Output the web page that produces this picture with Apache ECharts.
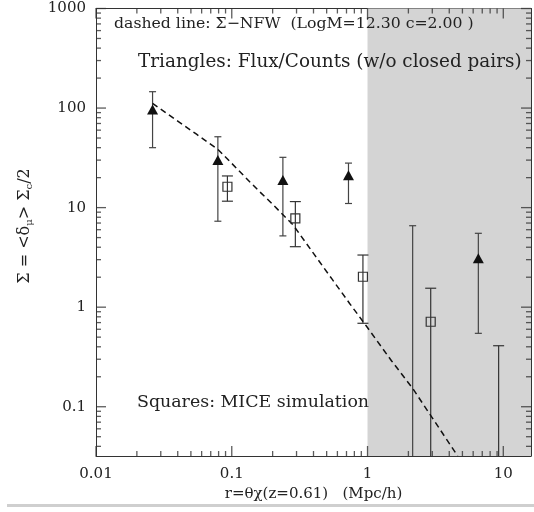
<!DOCTYPE html>
<html><head><meta charset="utf-8">
<script src="https://cdn.jsdelivr.net/npm/echarts@6/dist/echarts.min.js"></script>
<style>html,body{margin:0;padding:0;background:#fff}#wrap{position:relative;width:534px;height:512px}#c,#t{position:absolute;left:0;top:0;width:534px;height:512px}#t{pointer-events:none}</style>
</head><body><div id="wrap"><div id="c"></div><div id="t"></div></div>
<script>
// ---- axis ranges / ticks ----
const X_MIN = 0.01, X_MAX = 16, Y_MIN = 0.032, Y_MAX = 1000;
const SHADE_START = 1;
const xMajorTicks = [0.01, 0.1, 1, 10];
const xMinorTicks = [0.02,0.03,0.04,0.05,0.06,0.07,0.08,0.09,0.2,0.3,0.4,0.5,0.6,0.7,0.8,0.9,2,3,4,5,6,7,8,9];
const yMajorTicks = [0.1, 1, 10, 100, 1000];
const yMinorTicks = [0.04,0.05,0.06,0.07,0.08,0.09,0.2,0.3,0.4,0.5,0.6,0.7,0.8,0.9,2,3,4,5,6,7,8,9,20,30,40,50,60,70,80,90,200,300,400,500,600,700,800,900];

// ---- Triangles: Flux/Counts ----
const triX  = [0.0261, 0.079, 0.238, 0.724, 6.55];
const triY  = [96.7, 30, 18.9, 21.2, 3.1];
const triLo = [40, 7.3, 5.2, 11.0, 0.546];
const triHi = [146, 51.5, 32, 28, 5.52];
// triangle error bar whose point lies below the axis
const triBarX = [2.15];
const triBarHi = [6.58];

// ---- Squares: MICE simulation ----
const sqX  = [0.0929, 0.294, 0.925, 2.92];
const sqY  = [16.2, 7.81, 2.02, 0.714];
const sqLo = [11.6, 4.05, 0.689, Y_MIN];
const sqHi = [20.8, 11.5, 3.34, 1.55];
const sqBarX = [9.24];
const sqBarHi = [0.41];

// ---- NFW dashed line ----
const nfwX = [0.0261, 0.04, 0.055, 0.079, 0.1, 0.1355, 0.161, 0.2, 0.283, 0.4, 0.55, 0.738, 0.977, 1.5, 2.15, 3.0, 4.61];
const nfwY = [111.6, 74.1, 54.6, 38.5, 27.8, 18.2, 14.4, 10.8, 6.69, 3.47, 1.90, 1.09, 0.65, 0.29, 0.153, 0.0773, 0.032];

const FONT = 'DejaVu Serif';
const INK = '#222';
const AXC = '#333';
const MAJOR_LEN = 10, MINOR_LEN = 5;
const GRID = { left: 96, right: 3, top: 8.5, bottom: 56 };

const triErr = triX.map((x, i) => [x, triLo[i], triHi[i]]).concat(triBarX.map((x, i) => [x, Y_MIN, triBarHi[i]]));
const sqErr = sqX.map((x, i) => [x, sqLo[i], sqHi[i]]).concat(sqBarX.map((x, i) => [x, Y_MIN, sqBarHi[i]]));

function errRender(capW, color) {
  return function (params, api) {
    const x = api.value(0), lo = api.value(1), hi = api.value(2);
    const top = api.coord([x, hi]);
    const bot = api.coord([x, Math.max(lo, Y_MIN)]);
    const st = { stroke: color, lineWidth: 1.2 };
    const ch = [
      { type: 'line', shape: { x1: top[0], y1: top[1], x2: bot[0], y2: bot[1] }, style: st },
      { type: 'line', shape: { x1: top[0] - capW / 2, y1: top[1], x2: top[0] + capW / 2, y2: top[1] }, style: st }
    ];
    if (lo > Y_MIN * 1.0001) {
      ch.push({ type: 'line', shape: { x1: bot[0] - capW / 2, y1: bot[1], x2: bot[0] + capW / 2, y2: bot[1] }, style: st });
    }
    return { type: 'group', children: ch };
  };
}

// ---------------- main chart ----------------
const option = {
  animation: false,
  grid: GRID,
  xAxis: [
    {
      type: 'log', min: X_MIN, max: X_MAX, position: 'bottom',
      axisLine: { show: true, lineStyle: { color: AXC, width: 1 } },
      axisTick: { show: false }, splitLine: { show: false },
      axisLabel: { show: true, margin: 11, fontSize: 15, fontFamily: FONT, color: INK, showMaxLabel: false,
        formatter: v => String(+(+v).toPrecision(3)) },
      name: 'r=θχ(z=0.61)   (Mpc/h)', nameLocation: 'middle', nameGap: 30,
      nameTextStyle: { fontSize: 15, fontFamily: FONT, color: INK }
    },
    {
      type: 'log', min: X_MIN, max: X_MAX, position: 'top',
      axisLine: { show: true, lineStyle: { color: AXC, width: 1 } },
      axisTick: { show: false }, axisLabel: { show: false }, splitLine: { show: false }
    }
  ],
  yAxis: [
    {
      type: 'log', min: Y_MIN, max: Y_MAX, position: 'left',
      axisLine: { show: true, lineStyle: { color: AXC, width: 1 } },
      axisTick: { show: false }, splitLine: { show: false },
      axisLabel: { show: true, margin: 10, fontSize: 15, fontFamily: FONT, color: INK, showMinLabel: false,
        formatter: v => String(+(+v).toPrecision(3)) }
    },
    {
      type: 'log', min: Y_MIN, max: Y_MAX, position: 'right',
      axisLine: { show: true, lineStyle: { color: AXC, width: 1 } },
      axisTick: { show: false }, axisLabel: { show: false }, splitLine: { show: false }
    }
  ],
  series: [
    {
      type: 'line', z: 3, data: nfwX.map((x, i) => [x, nfwY[i]]), showSymbol: false, symbol: 'none',
      lineStyle: { color: '#111', width: 1.5, type: [6, 4] }, clip: true,
      markArea: { silent: true, itemStyle: { color: '#d4d4d4' },
        data: [[{ xAxis: SHADE_START, yAxis: Y_MIN }, { xAxis: X_MAX, yAxis: Y_MAX }]] }
    },
    { type: 'custom', z: 3, data: triErr, renderItem: errRender(7, '#444'), encode: { x: 0, y: [1, 2] } },
    { type: 'custom', z: 3, data: sqErr, renderItem: errRender(11, '#333'), encode: { x: 0, y: [1, 2] } },
    {
      type: 'scatter', z: 4, data: triX.map((x, i) => [x, triY[i]]), symbol: 'triangle', symbolSize: [11, 10],
      itemStyle: { color: '#111', opacity: 1 }
    },
    {
      type: 'scatter', z: 4, data: sqX.map((x, i) => [x, sqY[i]]), symbol: 'rect', symbolSize: 9,
      itemStyle: { color: 'rgba(0,0,0,0)', borderColor: '#333', borderWidth: 1.2, opacity: 1 }
    }
  ],
  graphic: [
    { type: 'text', left: 114, top: 16, z: 100, style: { text: 'dashed line: Σ−NFW  (LogM=12.30 c=2.00 )', font: '15.7px "DejaVu Serif"', fill: INK } },
    { type: 'text', left: 138, top: 53, z: 100, style: { text: 'Triangles: Flux/Counts (w/o closed pairs)', font: '18.4px "DejaVu Serif"', fill: INK } },
    { type: 'text', left: 137, top: 394, z: 100, style: { text: 'Squares: MICE simulation', font: '17.4px "DejaVu Serif"', fill: INK } },
    {
      type: 'text', x: 25, y: 226, rotation: Math.PI / 2, z: 100,
      style: {
        text: '{t|Σ = <δ}{s|μ}{t|> Σ}{s|c}{t|/2}', align: 'center', verticalAlign: 'middle',
        rich: { t: { fontSize: 16, fontFamily: FONT, fill: INK }, s: { fontSize: 10, fontFamily: FONT, fill: INK, padding: [9, 0, 0, 0] } }
      }
    },
    { type: 'rect', z: 100, shape: { x: 7, y: 504, width: 527, height: 3 }, style: { fill: '#cfcfcf' } }
  ]
};
const chart = echarts.init(document.getElementById('c'));
chart.setOption(option);

// ---------------- tick overlay (same grid and log scales, transparent) ----------------
function tickSeries(side, values, len) {
  let data, size, offset;
  if (side === 'bottom') { data = values.map(v => [v, Y_MIN]); size = [1.3, len]; offset = [0, -len / 2]; }
  if (side === 'top')    { data = values.map(v => [v, Y_MAX]); size = [1.3, len]; offset = [0, len / 2]; }
  if (side === 'left')   { data = values.map(v => [X_MIN, v]); size = [len, 1.3]; offset = [len / 2, 0]; }
  if (side === 'right')  { data = values.map(v => [X_MAX, v]); size = [len, 1.3]; offset = [-len / 2, 0]; }
  return { type: 'scatter', data: data, symbol: 'rect', symbolSize: size, symbolOffset: offset,
    itemStyle: { color: AXC } };
}
const tickChart = echarts.init(document.getElementById('t'));
tickChart.setOption({
  animation: false,
  grid: GRID,
  xAxis: { type: 'log', min: X_MIN, max: X_MAX, axisLine: { show: false }, axisTick: { show: false },
    axisLabel: { show: false }, splitLine: { show: false } },
  yAxis: { type: 'log', min: Y_MIN, max: Y_MAX, axisLine: { show: false }, axisTick: { show: false },
    axisLabel: { show: false }, splitLine: { show: false } },
  series: [
    tickSeries('bottom', xMajorTicks, MAJOR_LEN),
    tickSeries('bottom', xMinorTicks, MINOR_LEN),
    tickSeries('top', xMajorTicks, MAJOR_LEN),
    tickSeries('top', xMinorTicks, MINOR_LEN),
    tickSeries('left', yMajorTicks, MAJOR_LEN),
    tickSeries('left', yMinorTicks, MINOR_LEN),
    tickSeries('right', yMajorTicks, MAJOR_LEN),
    tickSeries('right', yMinorTicks, MINOR_LEN)
  ]
});
</script></body></html>
